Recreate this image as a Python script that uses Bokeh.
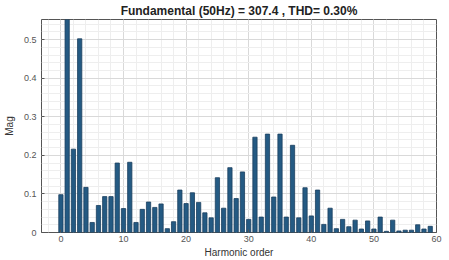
from bokeh.plotting import figure
from bokeh.models import Range1d, SingleIntervalTicker, Title
from bokeh.embed import file_html
from bokeh.resources import INLINE

harmonic_order = list(range(0, 60))
mag = [0.098, 100.0, 0.216, 0.502, 0.117, 0.026, 0.070, 0.093, 0.093, 0.180,
       0.062, 0.182, 0.026, 0.060, 0.079, 0.065, 0.074, 0.010, 0.028, 0.110,
       0.075, 0.103, 0.078, 0.051, 0.038, 0.142, 0.063, 0.168, 0.088, 0.157,
       0.034, 0.247, 0.040, 0.255, 0.092, 0.255, 0.040, 0.226, 0.038, 0.116,
       0.043, 0.110, 0.021, 0.063, 0.010, 0.034, 0.015, 0.032, 0.009, 0.030,
       0.009, 0.040, 0.003, 0.032, 0.004, 0.006, 0.006, 0.020, 0.009, 0.016]
x_ticks = [0, 10, 20, 30, 40, 50, 60]
y_ticks = [0, 0.1, 0.2, 0.3, 0.4, 0.5]
title_text = "Fundamental (50Hz) = 307.4 , THD= 0.30%"

FONT = "Liberation Sans"

p = figure(width=441, height=252, output_backend="svg", toolbar_location=None,
           x_range=Range1d(-3.1, 60), y_range=Range1d(0, 0.552),
           min_border_left=38, min_border_right=8, min_border_top=14,
           min_border_bottom=5)
p.frame_width = 395
p.frame_height = 213

p.vbar(x=harmonic_order, top=mag, width=0.68, bottom=0,
       fill_color="#245a83", line_color="#1b3f5e", line_width=0.8)

p.title = Title(text=title_text, align="center", text_font=FONT,
                text_font_size="12px", text_font_style="bold",
                text_color="#222222", standoff=3, offset=0)

for ax in (p.xaxis[0], p.yaxis[0]):
    ax.major_label_text_font = FONT
    ax.major_label_text_font_size = "9px"
    ax.major_label_text_color = "#555555"
    ax.axis_label_text_font = FONT
    ax.axis_label_text_font_size = "10px"
    ax.axis_label_text_font_style = "normal"
    ax.axis_label_text_color = "#333333"
    ax.axis_line_color = None
    ax.major_tick_in = 3
    ax.major_tick_out = 0
    ax.major_tick_line_color = "#555555"
    ax.minor_tick_line_color = None

p.xaxis.ticker = x_ticks
p.yaxis.ticker = y_ticks
p.xaxis.axis_label = "Harmonic order"
p.yaxis.axis_label = "Mag"
p.xaxis.major_label_standoff = 3
p.xaxis.axis_label_standoff = 2
p.yaxis.major_label_standoff = 5
p.yaxis.axis_label_standoff = 6

p.xgrid.ticker = SingleIntervalTicker(interval=10, num_minor_ticks=5)
p.ygrid.ticker = SingleIntervalTicker(interval=0.1, num_minor_ticks=5)
p.xgrid.grid_line_color = "#d9d9d9"
p.ygrid.grid_line_color = "#d9d9d9"
p.xgrid.minor_grid_line_color = "#eeeeee"
p.ygrid.minor_grid_line_color = "#eeeeee"

p.outline_line_color = "#555555"
p.outline_line_width = 1
p.background_fill_color = "white"
p.border_fill_color = "white"

open("out.html", "w").write(file_html(p, INLINE))
